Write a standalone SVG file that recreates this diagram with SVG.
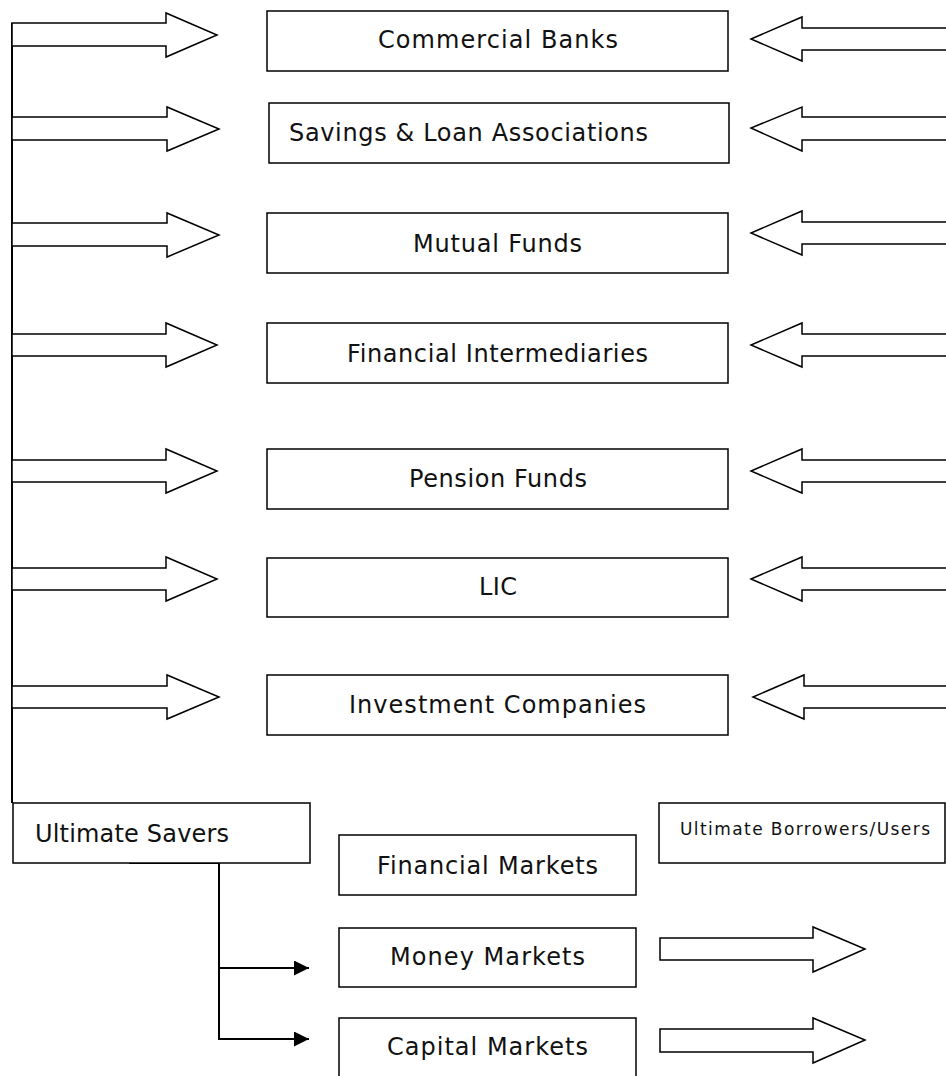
<svg xmlns="http://www.w3.org/2000/svg" width="946" height="1076" viewBox="0 0 946 1076">
<style>
.box{fill:#fff;stroke:#000;stroke-width:1.5}
.blk{fill:#fff;stroke:#000;stroke-width:1.5;stroke-linejoin:miter}
.t{font-family:"DejaVu Sans","Liberation Sans",sans-serif;font-size:24px;fill:#111}
.ts{font-family:"DejaVu Sans","Liberation Sans",sans-serif;font-size:17px;fill:#111}
.ln{fill:none;stroke:#000;stroke-width:2}
</style>
<defs>
<marker id="ah" markerWidth="16" markerHeight="16" refX="15" refY="7.5" orient="auto" markerUnits="userSpaceOnUse">
<path d="M0,0 L15,7.5 L0,15 Z" fill="#000"/>
</marker>
</defs>
<rect width="946" height="1076" fill="#fff"/>
<g id="connectors">
<line class="ln" x1="12" y1="23" x2="12" y2="803" stroke-width="1.5"/>
<path class="blk" d="M12,23 L166,23 L166,13 L217,35 L166,57 L166,46 L12,46 Z"/>
<path class="blk" d="M12,117 L167,117 L167,107 L219,129 L167,151 L167,140 L12,140 Z"/>
<path class="blk" d="M12,223 L167,223 L167,213 L219,235 L167,257 L167,246 L12,246 Z"/>
<path class="blk" d="M12,334 L166,334 L166,323 L217,345 L166,367 L166,356 L12,356 Z"/>
<path class="blk" d="M12,460 L166,460 L166,449 L217,471 L166,493 L166,482 L12,482 Z"/>
<path class="blk" d="M12,568 L166,568 L166,557 L217,579 L166,601 L166,590 L12,590 Z"/>
<path class="blk" d="M12,686 L167,686 L167,675 L219,697 L167,719 L167,708 L12,708 Z"/>
<path class="blk" d="M950,28 L802,28 L802,17 L751,39 L802,61 L802,50 L950,50"/>
<path class="blk" d="M950,117 L802,117 L802,107 L751,128 L802,151 L802,140 L950,140"/>
<path class="blk" d="M950,222 L802,222 L802,211 L751,233 L802,255 L802,244 L950,244"/>
<path class="blk" d="M950,334 L802,334 L802,323 L751,345 L802,367 L802,356 L950,356"/>
<path class="blk" d="M950,460 L802,460 L802,449 L751,471 L802,493 L802,482 L950,482"/>
<path class="blk" d="M950,568 L802,568 L802,557 L751,579 L802,601 L802,590 L950,590"/>
<path class="blk" d="M950,686 L804,686 L804,675 L753,697 L804,719 L804,708 L950,708"/>
<path class="blk" d="M660,938 L813,938 L813,927 L865,949 L813,972 L813,960 L660,960 Z"/>
<path class="blk" d="M660,1029 L813,1029 L813,1018 L865,1040 L813,1063 L813,1052 L660,1052 Z"/>
<line class="ln" x1="129" y1="863" x2="219" y2="863" stroke-width="2.5"/>
<line class="ln" x1="219" y1="863" x2="219" y2="1040"/>
<line class="ln" x1="219" y1="968" x2="309" y2="968" marker-end="url(#ah)"/>
<line class="ln" x1="219" y1="1039" x2="309" y2="1039" marker-end="url(#ah)"/>
</g>
<g id="commercial-banks"><rect class="box" x="267" y="11" width="461" height="60"/><text class="t" x="378" y="48" textLength="240">Commercial Banks</text></g>
<g id="savings-loan"><rect class="box" x="269" y="103" width="460" height="60"/><text class="t" x="289" y="141" textLength="359">Savings &amp; Loan Associations</text></g>
<g id="mutual-funds"><rect class="box" x="267" y="213" width="461" height="60"/><text class="t" x="413" y="252" textLength="169">Mutual Funds</text></g>
<g id="financial-intermediaries"><rect class="box" x="267" y="323" width="461" height="60"/><text class="t" x="347" y="362" textLength="301">Financial Intermediaries</text></g>
<g id="pension-funds"><rect class="box" x="267" y="449" width="461" height="60"/><text class="t" x="409" y="487" textLength="178">Pension Funds</text></g>
<g id="lic"><rect class="box" x="267" y="558" width="461" height="59"/><text class="t" x="479" y="595" textLength="38">LIC</text></g>
<g id="investment-companies"><rect class="box" x="267" y="675" width="461" height="60"/><text class="t" x="349" y="713" textLength="297">Investment Companies</text></g>
<g id="ultimate-savers"><rect class="box" x="13" y="803" width="297" height="60"/><text class="t" x="35" y="842" textLength="194">Ultimate Savers</text></g>
<g id="ultimate-borrowers"><rect class="box" x="659" y="803" width="286" height="60"/><text class="ts" x="680" y="835" textLength="250">Ultimate Borrowers/Users</text></g>
<g id="financial-markets"><rect class="box" x="339" y="835" width="297" height="60"/><text class="t" x="377" y="874" textLength="221">Financial Markets</text></g>
<g id="money-markets"><rect class="box" x="339" y="928" width="297" height="59"/><text class="t" x="390" y="965" textLength="195">Money Markets</text></g>
<g id="capital-markets"><rect class="box" x="339" y="1018" width="297" height="62"/><text class="t" x="387" y="1055" textLength="201">Capital Markets</text></g>
</svg>
